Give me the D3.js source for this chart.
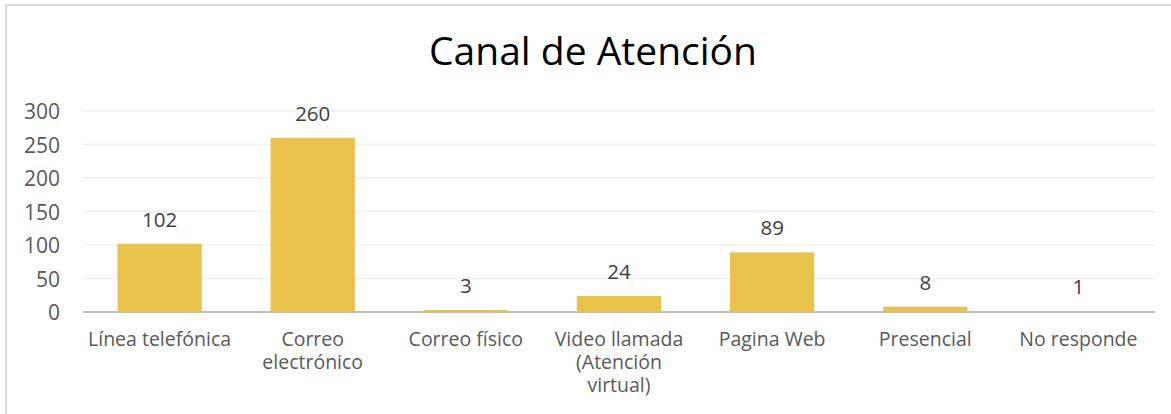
<!DOCTYPE html>
<meta charset="utf-8">
<script src="https://d3js.org/d3.v7.min.js"></script>
<style>
  body { margin: 0; background: #fff; }
  text { font-family: "Open Sans", sans-serif; }
  .grid line { stroke: #efefef; stroke-width: 1.5px; }
  .axis-y text { fill: #595959; font-size: 21px; }
  .cat { fill: #595959; font-size: 19.5px; }
  .val { fill: #404040; font-size: 20.5px; }
</style>
<div id="chart"></div>
<script>
  // data
  var categories = ["Línea telefónica", "Correo electrónico", "Correo físico",
    "Video llamada (Atención virtual)", "Pagina Web", "Presencial", "No responde"];
  var values = [102, 260, 3, 24, 89, 8, 1];
  var yTicks = [0, 50, 100, 150, 200, 250, 300];
  // how category labels break into lines (as in the picture)
  var catLines = [["Línea telefónica"], ["Correo", "electrónico"], ["Correo físico"],
    ["Video llamada", "(Atención", "virtual)"], ["Pagina Web"], ["Presencial"], ["No responde"]];

  var width = 1171, height = 414;
  var margin = { left: 83, right: 16, top: 111, bottom: 102 };

  var svg = d3.select("#chart").append("svg")
    .attr("width", width)
    .attr("height", height);

  // outer frame
  svg.append("rect")
    .attr("x", 6).attr("y", 5)
    .attr("width", 1170).attr("height", 420)
    .attr("fill", "none")
    .attr("stroke", "#d9d9d9")
    .attr("stroke-width", 2);

  svg.append("text")
    .attr("x", 593).attr("y", 65)
    .attr("text-anchor", "middle")
    .style("font-size", "39px")
    .style("fill", "#000")
    .text("Canal de Atención");

  var x = d3.scaleBand()
    .domain(categories)
    .range([margin.left, width - margin.right])
    .paddingInner(0.45)
    .paddingOuter(0.225);

  var y = d3.scaleLinear()
    .domain([0, 300])
    .range([height - margin.bottom, margin.top]);

  // gridlines
  svg.append("g").attr("class", "grid")
    .selectAll("line")
    .data(yTicks.slice(1))
    .join("line")
    .attr("x1", margin.left).attr("x2", width - margin.right)
    .attr("y1", function (d) { return y(d); })
    .attr("y2", function (d) { return y(d); });

  var yAxis = svg.append("g").attr("class", "axis-y")
    .attr("transform", "translate(" + 60 + ",0)")
    .call(d3.axisLeft(y).tickValues(yTicks).tickSize(0).tickPadding(0));
  yAxis.select(".domain").remove();
  yAxis.selectAll("text").attr("dy", "0.36em");

  svg.append("g")
    .selectAll("rect")
    .data(values)
    .join("rect")
    .attr("x", function (d, i) { return x(categories[i]); })
    .attr("y", function (d) { return y(d); })
    .attr("width", x.bandwidth())
    .attr("height", function (d) { return y(0) - y(d); })
    .attr("fill", "#e8c24b");

  // baseline
  svg.append("line")
    .attr("x1", margin.left).attr("x2", width - margin.right)
    .attr("y1", y(0)).attr("y2", y(0))
    .attr("stroke", "#bfbfbf")
    .attr("stroke-width", 2);

  svg.append("g")
    .selectAll("text")
    .data(values)
    .join("text")
    .attr("class", "val")
    .attr("x", function (d, i) { return x(categories[i]) + x.bandwidth() / 2; })
    .attr("y", function (d) { return y(d) - 17; })
    .attr("text-anchor", "middle")
    .text(function (d) { return d; });

  var cats = svg.append("g")
    .selectAll("text")
    .data(categories)
    .join("text")
    .attr("class", "cat")
    .attr("text-anchor", "middle")
    .attr("x", function (d) { return x(d) + x.bandwidth() / 2; })
    .attr("y", y(0) + 34);
  cats.selectAll("tspan")
    .data(function (d, i) { return catLines[i]; })
    .join("tspan")
    .attr("x", function () { return d3.select(this.parentNode).attr("x"); })
    .attr("dy", function (d, i) { return i === 0 ? 0 : 22.8; })
    .text(function (d) { return d; });
</script>
